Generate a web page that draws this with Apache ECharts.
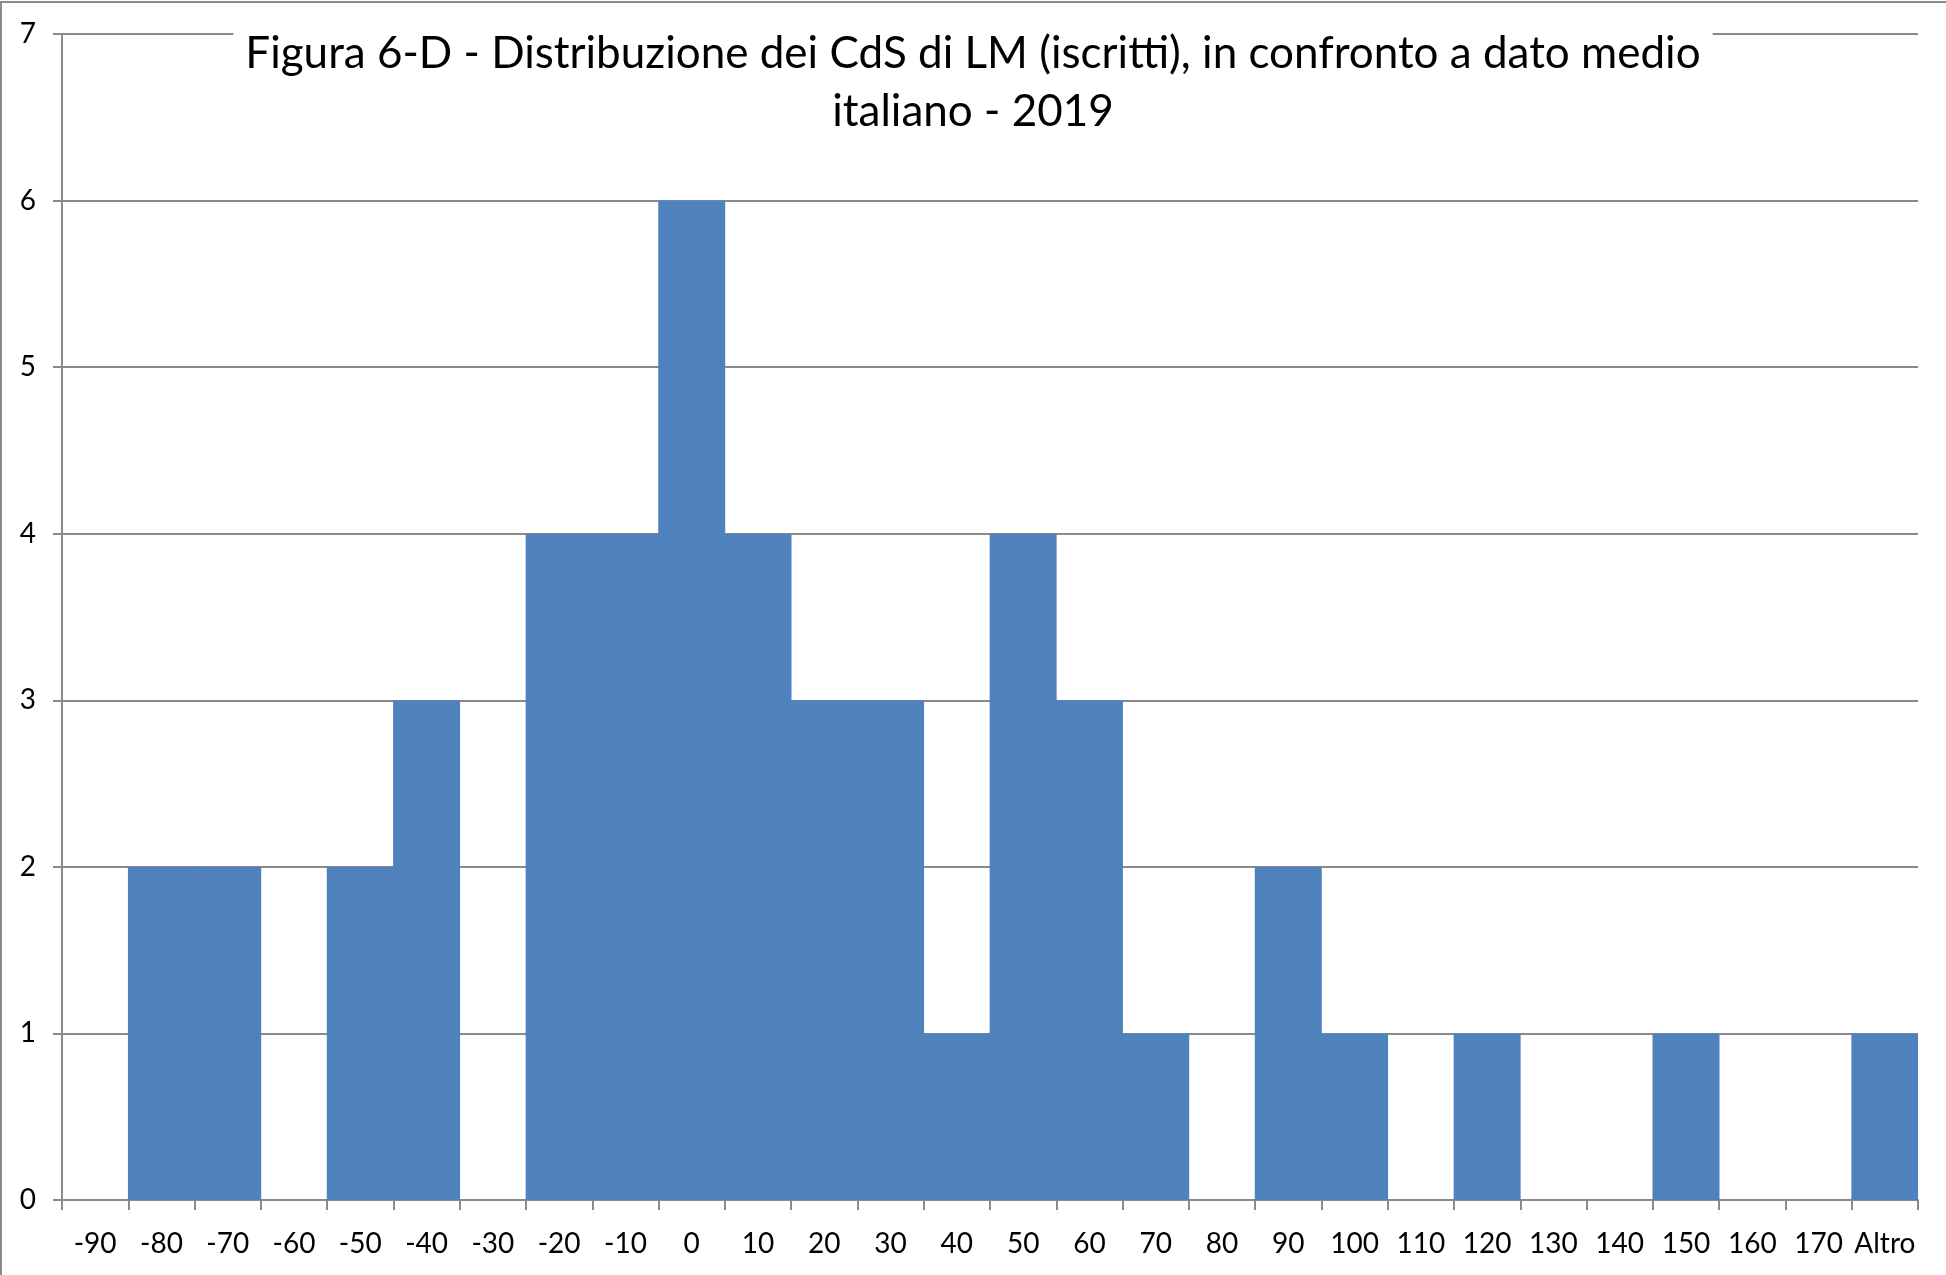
<!DOCTYPE html>
<html>
<head>
<meta charset="utf-8">
<style>
  html, body { margin: 0; padding: 0; background: #fff; }
  #chart { width: 1946px; height: 1275px; }
</style>
<script src="https://cdn.jsdelivr.net/npm/echarts@6/dist/echarts.min.js"></script>
</head>
<body>
<div id="chart"></div>
<script>
// bins of the distribution (difference vs. italian average)
const bins = ['-90', '-80', '-70', '-60', '-50', '-40', '-30', '-20', '-10', '0',
  '10', '20', '30', '40', '50', '60', '70', '80', '90', '100',
  '110', '120', '130', '140', '150', '160', '170', 'Altro']
// number of CdS per bin
const counts = [0, 2, 2, 0, 2, 3, 0, 4, 4, 6,
  4, 3, 3, 1, 4, 3, 1, 0, 2, 1,
  0, 1, 0, 0, 1, 0, 0, 1]
const titleText = 'Figura 6-D - Distribuzione dei CdS di LM (iscritti), in confronto a dato medio\nitaliano - 2019'

const lineGray = '#8a8a8a'
const barBlue = '#4F81BD'
const font = 'Lato, "Open Sans", sans-serif'

const chart = echarts.init(document.getElementById('chart'))
chart.setOption({
  animation: false,
  backgroundColor: '#fff',
  textStyle: { fontFamily: font },
  graphic: [{
    type: 'rect',
    z: 0,
    shape: { x: 1, y: 2, width: 2100, height: 1400 },
    style: { fill: 'none', stroke: lineGray, lineWidth: 2 },
    silent: true
  }],
  title: {
    text: titleText,
    left: 'center',
    top: 19,
    padding: [6, 12],
    backgroundColor: '#fff',
    z: 10,
    textStyle: {
      fontFamily: font,
      fontWeight: 'normal',
      fontSize: 44,
      lineHeight: 58,
      color: '#000'
    }
  },
  grid: { left: 62, right: 28, top: 34, bottom: 75 },
  xAxis: {
    type: 'category',
    data: bins,
    axisLine: { lineStyle: { color: lineGray, width: 2 } },
    axisTick: { show: true, interval: 0, length: 10, lineStyle: { color: lineGray, width: 2 } },
    axisLabel: { interval: 0, margin: 30, fontSize: 28, color: '#000', fontFamily: font }
  },
  yAxis: {
    type: 'value',
    min: 0,
    max: 7,
    interval: 1,
    axisLine: { show: true, lineStyle: { color: lineGray, width: 2 } },
    axisTick: { show: true, length: 9, lineStyle: { color: lineGray, width: 2 } },
    axisLabel: { margin: 26, fontSize: 28, color: '#000', fontFamily: font },
    splitLine: { show: true, lineStyle: { color: lineGray, width: 2 } }
  },
  series: [{
    type: 'bar',
    data: counts,
    barWidth: 67,
    itemStyle: { color: barBlue }
  }]
})
</script>
</body>
</html>
